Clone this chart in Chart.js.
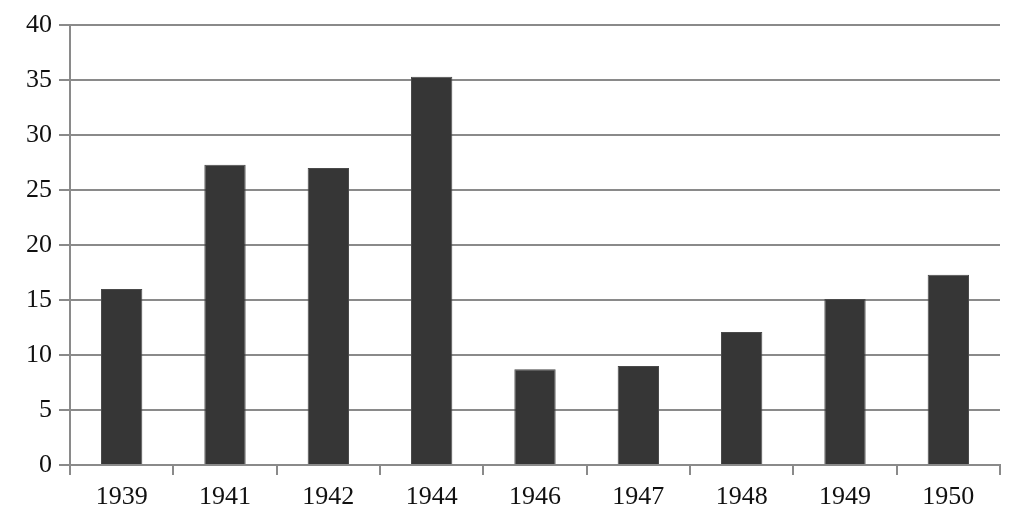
<!DOCTYPE html>
<html>
<head>
<meta charset="utf-8">
<script src="https://cdn.jsdelivr.net/npm/chart.js@4"></script>
<style>
html,body{margin:0;padding:0;background:#fff;}
#wrap{width:1024px;height:530px;}
</style>
</head>
<body>
<div id="wrap"><canvas id="c" width="1024" height="530"></canvas></div>
<script>
const categories = ["1939","1941","1942","1944","1946","1947","1948","1949","1950"];
const values = [16.0, 27.3, 27.0, 35.3, 8.7, 9.0, 12.1, 15.1, 17.3];
const yTicks = [0,5,10,15,20,25,30,35,40];

const gridColor = '#8a8a8a';
new Chart(document.getElementById('c'), {
  type: 'bar',
  data: {
    labels: categories,
    datasets: [{
      data: values,
      backgroundColor: '#363636',
      borderColor: '#4a4a4a',
      borderWidth: 1,
      barPercentage: 0.4,
      categoryPercentage: 1.0
    }]
  },
  options: {
    responsive: false,
    animation: false,
    devicePixelRatio: 1,
    layout: { padding: { top: 25, right: 24, left: 0, bottom: 0 } },
    plugins: { legend: { display: false }, tooltip: { enabled: false } },
    scales: {
      x: {
        offset: true,
        grid: { offset: true, drawOnChartArea: false, drawTicks: true, tickLength: 10, color: gridColor, lineWidth: 2 },
        border: { display: true, color: gridColor, width: 2 },
        ticks: { color: '#111', padding: 7, font: { family: 'Liberation Serif', size: 26 } },
        afterFit: s => { s.height = 65; }
      },
      y: {
        min: 0, max: 40,
        afterBuildTicks: s => { s.ticks = yTicks.map(v => ({ value: v })); },
        grid: { color: gridColor, lineWidth: 2, tickLength: 11 },
        border: { display: true, color: gridColor, width: 2 },
        ticks: { color: '#111', padding: 7, font: { family: 'Liberation Serif', size: 26 } },
        afterFit: s => { s.width = 70; }
      }
    }
  }
});
</script>
</body>
</html>
